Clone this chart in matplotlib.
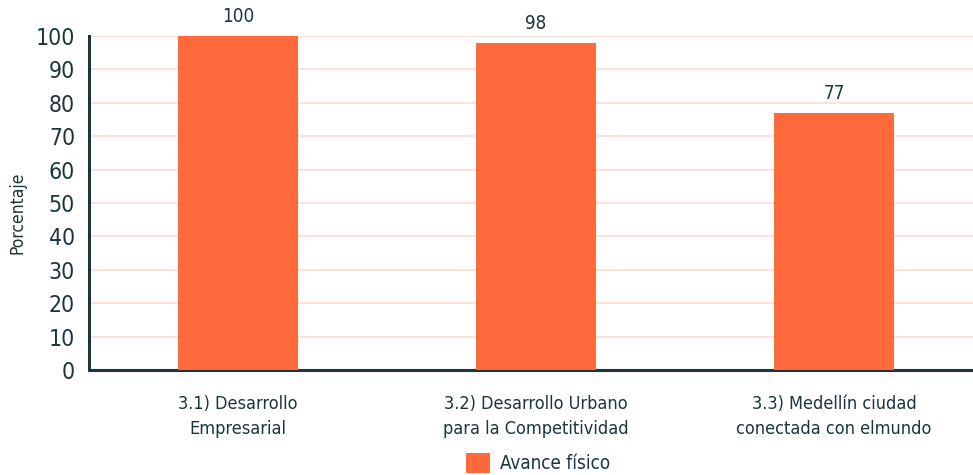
import matplotlib.pyplot as plt
import numpy as np

# data
categorias = ['3.1) Desarrollo\nEmpresarial',
              '3.2) Desarrollo Urbano\npara la Competitividad',
              '3.3) Medellín ciudad\nconectada con elmundo']
avance = [100, 98, 77]
yticks = [0, 10, 20, 30, 40, 50, 60, 70, 80, 90, 100]

txt = '#1c353c'
naranja = '#ff6a3d'
plt.rcParams['font.family'] = ['DejaVu Sans']
plt.rcParams['font.stretch'] = 'condensed'

fig = plt.figure(figsize=(9.73, 4.75), dpi=100)
ax = fig.add_axes([89/973, 1-370/475, 894/973, 334/475])

x = np.arange(len(categorias))
bars = ax.bar(x, avance, width=0.4, color=naranja, zorder=3, label='Avance físico')
for xi, v in zip(x, avance):
    ax.text(xi, v + 3, str(v), ha='center', va='bottom', fontsize=13.5, color=txt)

ax.set_xlim(-0.5, 2.5)
ax.set_ylim(0, 100)
ax.set_yticks(yticks)
ax.set_yticklabels([str(t) for t in yticks], fontsize=16.5, color=txt)
ax.set_xticks(x)
ax.set_xticklabels(categorias, fontsize=13, color=txt, linespacing=1.5)
ax.tick_params(axis='both', length=0, pad=10)
ax.tick_params(axis='x', pad=18)
ax.grid(axis='y', color='#ffdcd3', linewidth=1.2, zorder=0)
for s in ['top', 'right']:
    ax.spines[s].set_visible(False)
for s in ['left', 'bottom']:
    ax.spines[s].set_color(txt)
    ax.spines[s].set_linewidth(2.2)
ax.set_ylabel('Porcentaje', fontsize=12.5, color=txt)
ax.yaxis.set_label_coords(-62/894, 0.47)

fig.legend(handles=[bars], labels=['Avance físico'], loc='center',
           bbox_to_anchor=(538/973, 1-463/475), frameon=False, fontsize=13.5,
           labelcolor=txt, handlelength=1.3, handleheight=1.3, handletextpad=0.5)

fig.savefig('out.png', dpi=100)
